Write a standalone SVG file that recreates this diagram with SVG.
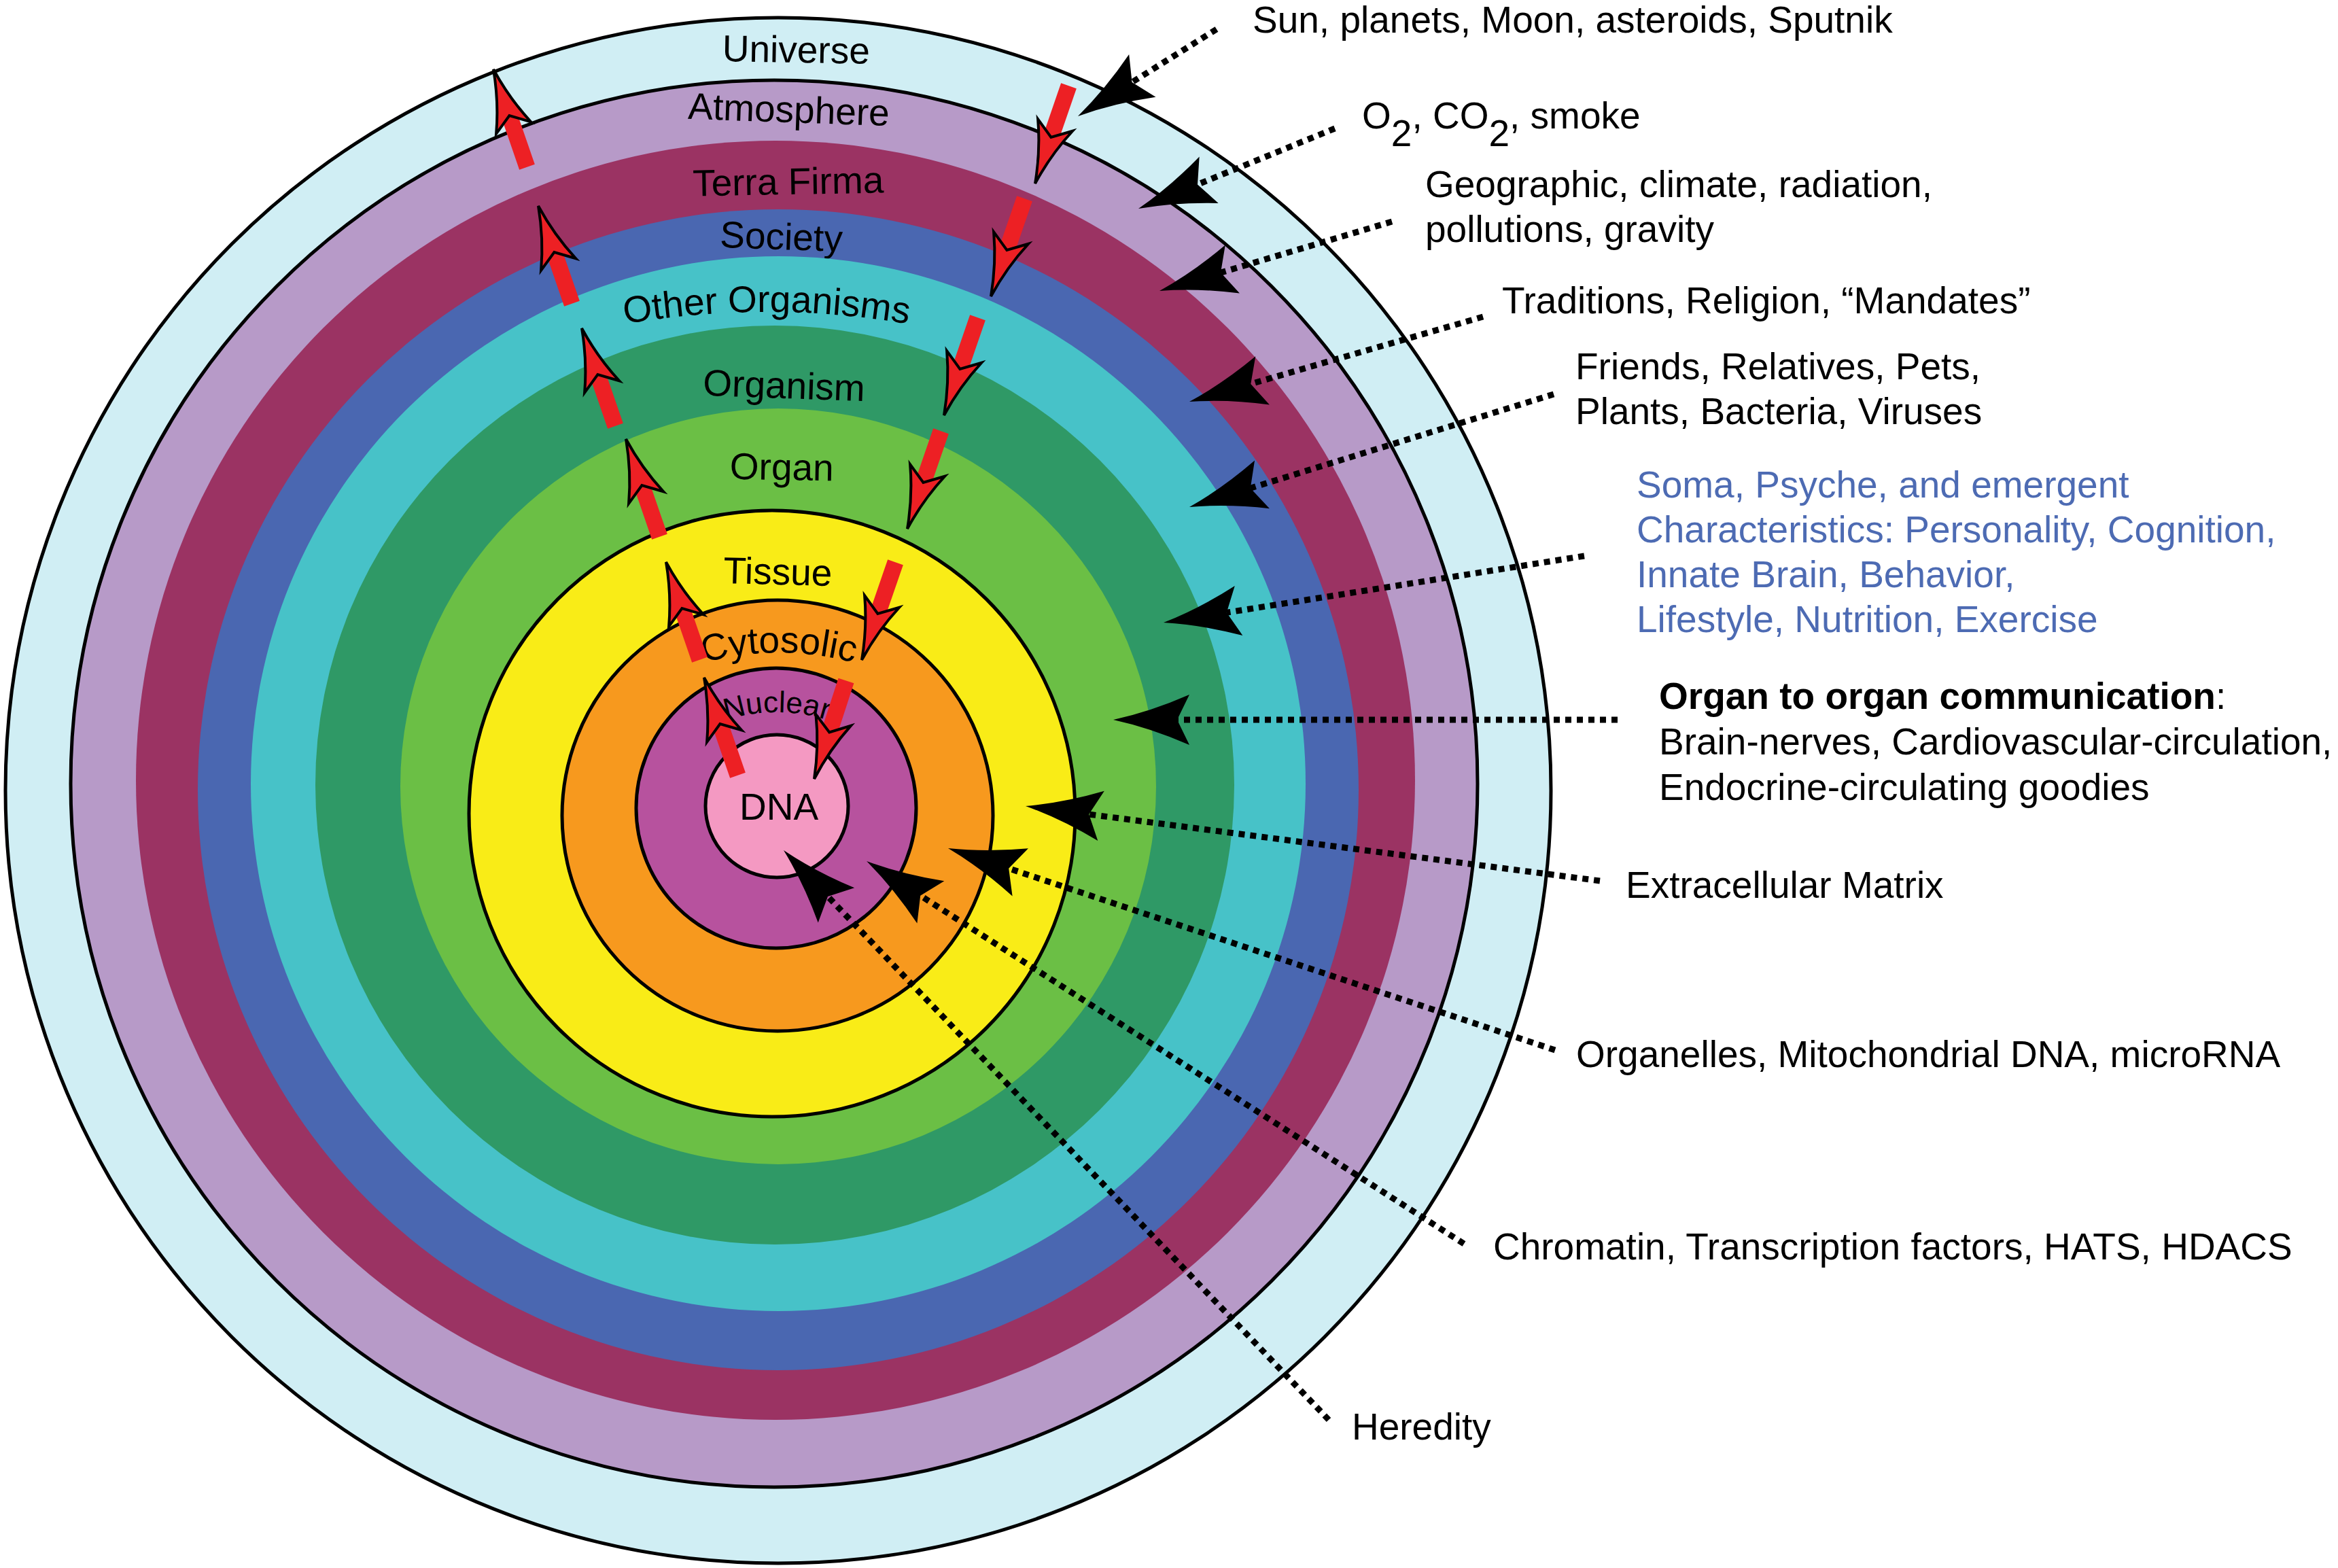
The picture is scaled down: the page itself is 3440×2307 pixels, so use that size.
<svg xmlns="http://www.w3.org/2000/svg" width="3440" height="2307" viewBox="0 0 3440 2307">
<defs>
<style>
.edge{stroke:#000;stroke-width:5}
.lbl{font-family:"Liberation Sans",Arial,Helvetica,sans-serif;font-size:55px;fill:#000}
.mid{text-anchor:middle}
.blue{fill:#4d6bb3}
.dot{fill:none;stroke:#000;stroke-width:9;stroke-dasharray:9 8;marker-end:url(#blk)}
.rbar{fill:#ed2024}
.rhead{fill:#ed2024;stroke:#000;stroke-width:4;stroke-linejoin:miter}
</style>
<marker id="blk" markerUnits="userSpaceOnUse" viewBox="-120 -42 125 84" markerWidth="125" markerHeight="84" refX="-94" refY="0" orient="auto" overflow="visible">
<path d="M0,0 Q-55,-12 -112,-37 L-94,0 L-112,37 Q-55,12 0,0 Z" fill="#000"/>
</marker>
<g id="redArrow">
<rect class="rbar" x="-12" y="68" width="24" height="84"/>
<path class="rhead" d="M0,0 Q8,48 27,91 L0,72 L-27,91 Q-8,48 0,0 Z"/>
</g>
<path id="arcOther" d="M853,490 A1234,1234 0 0 1 1403,490" fill="none"/>
<path id="arcCyto" d="M986,992 A420,420 0 0 1 1306,992" fill="none"/>
<path id="arcNuc" d="M1041,1070 A247,247 0 0 1 1245,1070" fill="none"/>
</defs>
<rect width="3440" height="2307" fill="#fff"/>

<g id="ring-universe">
<circle cx="1145" cy="1163" r="1137" fill="#d0eef4" class="edge"/>
<text class="lbl mid" x="1171" y="92" transform="rotate(1 1171 92)">Universe</text>
</g>
<g id="ring-atmosphere">
<circle cx="1139" cy="1153" r="1035" fill="#b79ac8" class="edge"/>
<text class="lbl mid" x="1160" y="180" transform="rotate(2 1160 180)">Atmosphere</text>
</g>
<g id="ring-terra-firma">
<circle cx="1141" cy="1148" r="941" fill="#9b3363"/>
<text class="lbl mid" x="1160" y="286" transform="rotate(-1 1160 286)">Terra Firma</text>
</g>
<g id="ring-society">
<circle cx="1145" cy="1162" r="854" fill="#4a67b1"/>
<text class="lbl mid" x="1149" y="367" transform="rotate(2 1149 367)">Society</text>
</g>
<g id="ring-other-organisms">
<circle cx="1145" cy="1153" r="776" fill="#47c2c8"/>
<text class="lbl mid"><textPath href="#arcOther" startOffset="50%">Other Organisms</textPath></text>
</g>
<g id="ring-organism">
<circle cx="1140" cy="1155" r="676" fill="#2f9966"/>
<text class="lbl mid" x="1153" y="586" transform="rotate(2 1153 586)">Organism</text>
</g>
<g id="ring-organ">
<circle cx="1145" cy="1157" r="556" fill="#6bbf45"/>
<text class="lbl mid" x="1150" y="706" transform="rotate(1 1150 706)">Organ</text>
</g>
<g id="ring-tissue">
<circle cx="1136" cy="1197" r="446" fill="#f9ec17" class="edge"/>
<text class="lbl mid" x="1144" y="860" transform="rotate(1.5 1144 860)">Tissue</text>
</g>
<g id="ring-cytosolic">
<circle cx="1144" cy="1200" r="317" fill="#f7991e" class="edge"/>
<text class="lbl mid"><textPath href="#arcCyto" startOffset="50%">Cytosolic</textPath></text>
</g>
<g id="ring-nuclear">
<circle cx="1142" cy="1189" r="206" fill="#b7529e" class="edge"/>
<text class="lbl mid" style="font-size:44px"><textPath href="#arcNuc" startOffset="50%">Nuclear</textPath></text>
</g>
<g id="ring-dna">
<circle cx="1143" cy="1186" r="105" fill="#f499c2" class="edge"/>
<text class="lbl mid" x="1146" y="1206">DNA</text>
</g>

<g id="red-arrows">
<use href="#redArrow" transform="translate(726,102) rotate(-19)"/>
<use href="#redArrow" transform="translate(792,303) rotate(-19)"/>
<use href="#redArrow" transform="translate(856,483) rotate(-19)"/>
<use href="#redArrow" transform="translate(921,646) rotate(-19)"/>
<use href="#redArrow" transform="translate(980,827) rotate(-19)"/>
<use href="#redArrow" transform="translate(1036,997) rotate(-19)"/>
<use href="#redArrow" transform="translate(1523,270) rotate(199)"/>
<use href="#redArrow" transform="translate(1458,436) rotate(199)"/>
<use href="#redArrow" transform="translate(1389,611) rotate(199)"/>
<use href="#redArrow" transform="translate(1335,778) rotate(199)"/>
<use href="#redArrow" transform="translate(1268,971) rotate(199)"/>
<use href="#redArrow" transform="translate(1198,1146) rotate(198)"/>
</g>

<g id="connectors">
<line class="dot" x1="1790" y1="43" x2="1665.6" y2="121"/>
<line class="dot" x1="1964" y1="189" x2="1762" y2="271.5"/>
<line class="dot" x1="2048" y1="326" x2="1796.1" y2="401.1"/>
<line class="dot" x1="2182" y1="466" x2="1840.3" y2="564.9"/>
<line class="dot" x1="2286" y1="580" x2="1839.8" y2="718.2"/>
<line class="dot" x1="2331" y1="818" x2="1804.8" y2="901.3"/>
<line class="dot" x1="2380" y1="1059" x2="1732" y2="1059"/>
<line class="dot" x1="2354" y1="1296" x2="1602.2" y2="1198.1"/>
<line class="dot" x1="2288" y1="1545" x2="1484.2" y2="1277.7"/>
<line class="dot" x1="2154" y1="1830" x2="1354.2" y2="1317.7"/>
<line class="dot" x1="1955" y1="2089" x2="1218" y2="1318.9"/>
</g>

<g id="label-universe-contents">
<text class="lbl" x="1843" y="48">Sun, planets, Moon, asteroids, Sputnik</text>
</g>
<g id="label-atmosphere-contents">
<text class="lbl" x="2004" y="189">O<tspan dy="26">2</tspan><tspan dy="-26">, CO</tspan><tspan dy="26">2</tspan><tspan dy="-26">, smoke</tspan></text>
</g>
<g id="label-terra-contents">
<text class="lbl" x="2097" y="290">Geographic, climate, radiation,</text>
<text class="lbl" x="2097" y="356">pollutions, gravity</text>
</g>
<g id="label-society-contents">
<text class="lbl" x="2210" y="461">Traditions, Religion, “Mandates”</text>
</g>
<g id="label-other-contents">
<text class="lbl" x="2318" y="558">Friends, Relatives, Pets,</text>
<text class="lbl" x="2318" y="624">Plants, Bacteria, Viruses</text>
</g>
<g id="label-organism-contents">
<text class="lbl blue" x="2408" y="732">Soma, Psyche, and emergent</text>
<text class="lbl blue" x="2408" y="798">Characteristics: Personality, Cognition,</text>
<text class="lbl blue" x="2408" y="864">Innate Brain, Behavior,</text>
<text class="lbl blue" x="2408" y="930">Lifestyle, Nutrition, Exercise</text>
</g>
<g id="label-organ-contents">
<text class="lbl" x="2441" y="1043"><tspan font-weight="bold">Organ to organ communication</tspan>:</text>
<text class="lbl" x="2441" y="1110">Brain-nerves, Cardiovascular-circulation,</text>
<text class="lbl" x="2441" y="1177">Endocrine-circulating goodies</text>
</g>
<g id="label-tissue-contents">
<text class="lbl" x="2392" y="1321">Extracellular Matrix</text>
</g>
<g id="label-cytosolic-contents">
<text class="lbl" x="2319" y="1570">Organelles, Mitochondrial DNA, microRNA</text>
</g>
<g id="label-nuclear-contents">
<text class="lbl" x="2197" y="1853">Chromatin, Transcription factors, HATS, HDACS</text>
</g>
<g id="label-dna-contents">
<text class="lbl" x="1989" y="2118">Heredity</text>
</g>
</svg>
